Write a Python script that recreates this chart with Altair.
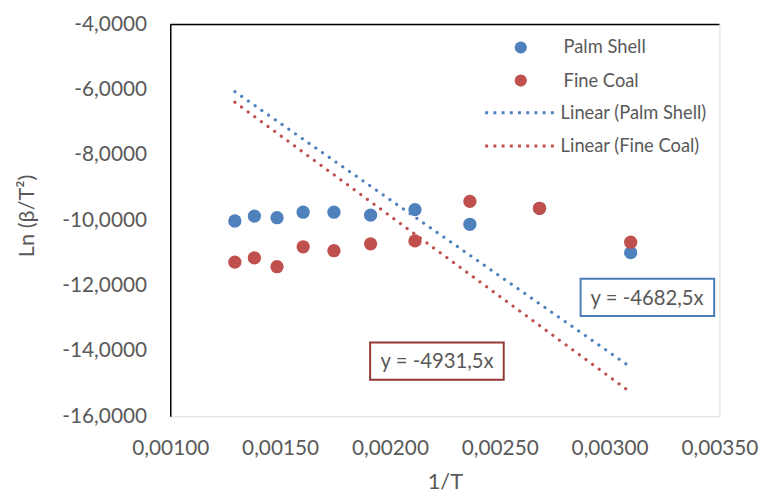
import altair as alt
import pandas as pd

# ---- data ----
inv_T = [0.001294, 0.001383, 0.001486, 0.001605, 0.001745,
         0.001912, 0.002114, 0.002364, 0.002681, 0.003096]
palm_shell = [-10.02, -9.87, -9.92, -9.75, -9.75, -9.84, -9.67, -10.12, -9.63, -10.99]
fine_coal = [-11.28, -11.15, -11.42, -10.81, -10.93, -10.72, -10.63, -9.42, -9.63, -10.67]

series_names = ["Palm Shell", "Fine Coal"]
trend_names = ["Linear (Palm Shell)", "Linear (Fine Coal)"]
slopes = [-4682.5, -4931.5]
series_colors = ["#4F81BD", "#C0504D"]

eq_labels = ["y = -4682,5x", "y = -4931,5x"]
eq_x = [0.0031707, 0.0022149]
eq_y = [-12.40, -14.34]
eq_box_x = [0.0028680, 0.0019099]
eq_box_x2 = [0.0034761, 0.0025180]
eq_box_y = [-11.79, -13.74]
eq_box_y2 = [-12.93, -14.88]
eq_border = ["#4A7EBB", "#953735"]

x_ticks = [0.0010, 0.0015, 0.0020, 0.0025, 0.0030, 0.0035]
y_ticks = [-16, -14, -12, -10, -8, -6, -4]

# ---- tables ----
pts = pd.DataFrame({
    "x": inv_T * 2,
    "y": palm_shell + fine_coal,
    "series": [series_names[0]] * len(inv_T) + [series_names[1]] * len(inv_T),
})
xmin, xmax = min(inv_T), max(inv_T)
lines = pd.DataFrame({
    "x": [xmin, xmax, xmin, xmax],
    "y": [slopes[0] * xmin, slopes[0] * xmax, slopes[1] * xmin, slopes[1] * xmax],
    "trend": [trend_names[0]] * 2 + [trend_names[1]] * 2,
})
eqs = pd.DataFrame({
    "label": eq_labels, "x": eq_x, "y": eq_y,
    "bx": eq_box_x, "bx2": eq_box_x2, "by": eq_box_y, "by2": eq_box_y2,
    "border": eq_border,
})

FONT = "Lato"
GREY = "#595959"

xscale = alt.Scale(domain=[0.001, 0.0035], nice=False, zero=False)
yscale = alt.Scale(domain=[-16, -4], nice=False, zero=False)

x_axis = alt.Axis(
    values=x_ticks, title="1/T", domain=False, ticks=False, grid=False,
    labelFlush=False, labelOverlap=False,
    labelExpr="replace(format(datum.value, '.5f'), '.', ',')",
    labelFont=FONT, labelFontSize=21, labelColor=GREY, labelPadding=22,
    titleFont=FONT, titleFontSize=22, titleColor=GREY, titleFontWeight="normal",
    titleBaseline="middle", titleY=66,
)
y_axis = alt.Axis(
    values=y_ticks, title="Ln (β/T²)", domain=True, domainColor="#000000",
    domainWidth=1.5, ticks=False, grid=False, labelOverlap=False, labelFlush=False,
    labelExpr="(datum.value < 0 ? '-' : '') + replace(format(abs(datum.value), '.4f'), '.', ',')",
    labelFont=FONT, labelFontSize=21, labelColor=GREY, labelPadding=24,
    titleFont=FONT, titleFontSize=22, titleColor=GREY, titleFontWeight="normal",
    titleBaseline="middle", titleAlign="center", titleX=-145, titleY=193,
)

points = alt.Chart(pts).mark_circle(size=180, opacity=1).encode(
    x=alt.X("x:Q", scale=xscale, axis=x_axis),
    y=alt.Y("y:Q", scale=yscale, axis=y_axis),
    fill=alt.Fill("series:N", sort=series_names,
                  scale=alt.Scale(domain=series_names, range=series_colors),
                  legend=alt.Legend(title=None, orient="none", legendX=345, legendY=14,
                                    symbolType="circle", symbolSize=150,
                                    labelFont=FONT, labelFontSize=18.5, labelColor=GREY,
                                    labelOffset=34, rowPadding=14.5)),
)

trend = alt.Chart(lines).mark_line(strokeWidth=3.2, strokeCap="round", strokeDash=[0.1, 8.2]).encode(
    x=alt.X("x:Q", scale=xscale),
    y=alt.Y("y:Q", scale=yscale),
    stroke=alt.Stroke("trend:N", sort=trend_names,
                      scale=alt.Scale(domain=trend_names, range=series_colors),
                      legend=alt.Legend(title=None, orient="none", legendX=344, legendY=80,
                                        symbolType="M-5,0H5", symbolSize=196,
                                        symbolStrokeWidth=3, symbolDash=[3, 5.3],
                                        labelFont=FONT, labelFontSize=18.5, labelColor=GREY,
                                        labelOffset=32, rowPadding=14.5)),
)

top_line = alt.Chart(pd.DataFrame({"y": [-4]})).mark_rule(color="#000000", strokeWidth=1.5).encode(
    y=alt.Y("y:Q", scale=yscale),
)

boxes = alt.Chart(eqs).mark_rect(fill="white", strokeWidth=2).encode(
    x=alt.X("bx:Q", scale=xscale), x2="bx2:Q",
    y=alt.Y("by:Q", scale=yscale), y2="by2:Q",
    stroke=alt.Stroke("border:N", scale=None, legend=None),
)
texts = alt.Chart(eqs).mark_text(font=FONT, fontSize=20.5, color=GREY).encode(
    x=alt.X("x:Q", scale=xscale),
    y=alt.Y("y:Q", scale=yscale),
    text="label:N",
)

chart = alt.layer(top_line, trend, points, boxes, texts).resolve_scale(
    stroke="independent"
).properties(
    width=555, height=396,
    autosize=alt.AutoSizeParams(type="none"),
    padding={"left": 164, "top": 14, "right": 40, "bottom": 80},
).configure_view(stroke=None).configure(background="white")

chart.save("out.html", embed_options={"renderer": "svg", "actions": False})
